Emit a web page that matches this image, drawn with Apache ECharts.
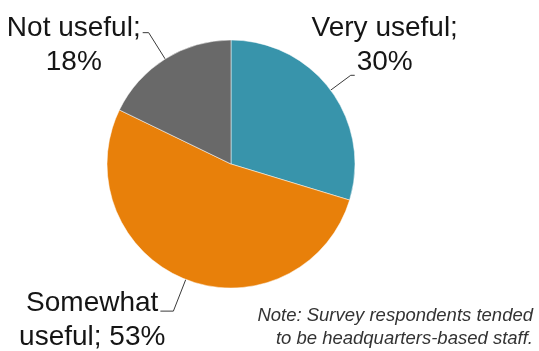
<!DOCTYPE html>
<html>
<head>
<meta charset="utf-8">
<script src="https://cdn.jsdelivr.net/npm/echarts@6/dist/echarts.min.js"></script>
<style>
  html, body { margin: 0; padding: 0; background: #fff; }
  #chart { width: 539px; height: 351px; }
</style>
</head>
<body>
<div id="chart"></div>
<script>
// Survey answers and their shares (percent)
const categories = ['Very useful', 'Somewhat useful', 'Not useful'];
const shares = [30, 53, 18];
const noteLines = ['Note: Survey respondents tended', 'to be headquarters-based staff.'];

// Styling per slice
const sliceColors = ['#3894ab', '#e8800a', '#696969'];
const leaderLengths = [25, 34, 31];
const leaderTails = [4, 13, 6];
const attachDrops = [13, 8, 4]; // how far below a text line's middle the leader meets it

const LABEL_FAMILY = '"Liberation Sans", Arial, Helvetica, sans-serif';
const LABEL_SIZE = 28;
const LINE_H = 34;
const GAP = 2; // space between leader end and text

// Short names get "name;" then the value; long names wrap after the first word.
function labelLines(i) {
  const name = categories[i];
  const value = shares[i] + '%';
  if (name.length > 12) {
    const cut = name.indexOf(' ');
    return [name.slice(0, cut), name.slice(cut + 1) + '; ' + value];
  }
  return [name + ';', value];
}

const measureCtx = document.createElement('canvas').getContext('2d');
measureCtx.font = LABEL_SIZE + 'px ' + LABEL_FAMILY;
const textWidth = s => measureCtx.measureText(s).width;

const chart = echarts.init(document.getElementById('chart'), null, { renderer: 'canvas' });

chart.setOption({
  animation: false,
  backgroundColor: '#ffffff',
  series: [{
    type: 'pie',
    center: [231, 164],
    radius: 124,
    startAngle: 90,
    clockwise: true,
    silent: true,
    avoidLabelOverlap: false,
    emphasis: { disabled: true },
    itemStyle: { borderColor: '#ffffff', borderWidth: 0.5 },
    data: categories.map((name, i) => ({
      name,
      value: shares[i],
      itemStyle: { color: sliceColors[i] },
      labelLine: { length: leaderLengths[i], length2: leaderTails[i] }
    })),
    label: {
      show: true,
      position: 'outside',
      formatter: p => labelLines(p.dataIndex).join('\n'),
      color: '#151515',
      fontSize: LABEL_SIZE,
      fontFamily: LABEL_FAMILY,
      lineHeight: LINE_H,
      distanceToLabelLine: GAP
    },
    labelLine: {
      show: true,
      smooth: false,
      lineStyle: { color: '#3a3a3a', width: 1 }
    },
    // Centre each label block so that the leader meets the nearest text line
    labelLayout: params => {
      const pts = params.labelLinePoints;
      if (!pts || pts.length < 3) return {};
      const lines = labelLines(params.dataIndex);
      const n = lines.length;
      const end = pts[2];
      const onLeft = end[0] < pts[1][0];
      const k = onLeft ? 0 : n - 1;
      const w = textWidth(lines[k]);
      const x = onLeft ? end[0] - GAP - w / 2 : end[0] + GAP + w / 2;
      const lineCenter = end[1] - attachDrops[params.dataIndex];
      const y = lineCenter - (k - (n - 1) / 2) * LINE_H;
      return { x, y, align: 'center', verticalAlign: 'middle', labelLinePoints: pts };
    }
  }],
  // Footnote, each line flush right
  graphic: noteLines.map((line, i) => ({
    type: 'text',
    x: 533,
    y: 304 + i * 23,
    silent: true,
    style: {
      text: line,
      fontSize: 18.5,
      fontStyle: 'italic',
      fontFamily: LABEL_FAMILY,
      fill: '#333333',
      align: 'right',
      verticalAlign: 'top',
      lineHeight: 23
    }
  }))
});
</script>
</body>
</html>
